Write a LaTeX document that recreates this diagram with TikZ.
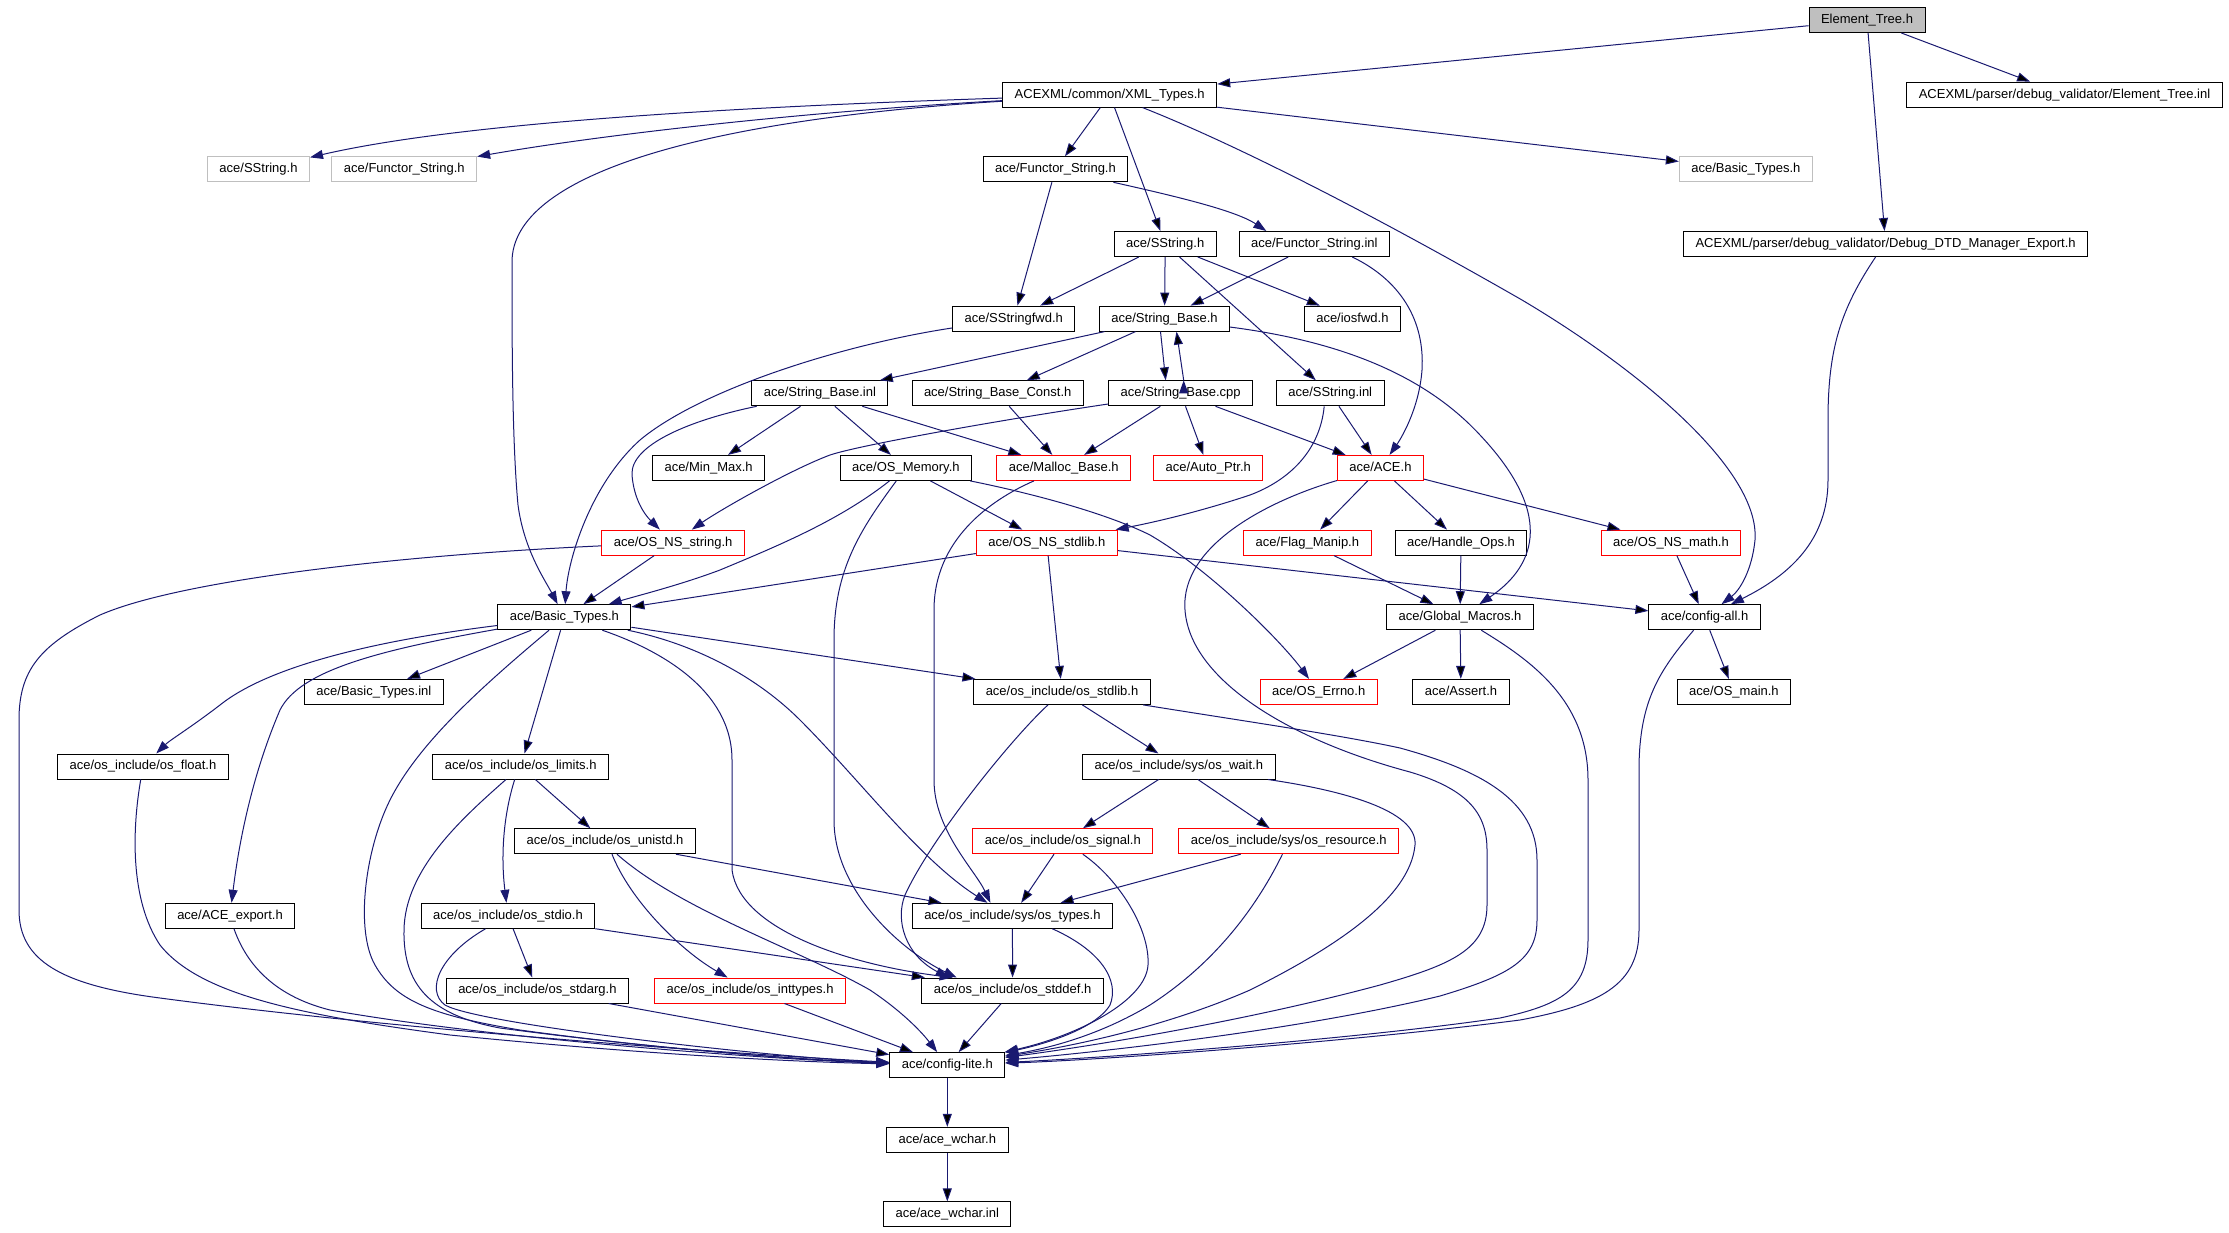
\documentclass[tikz,border=0pt]{standalone}
\usepackage{fontspec}
\setmainfont{Liberation Sans}
\usetikzlibrary{arrows.meta, positioning}
\definecolor{edgeblue}{HTML}{191970}
\definecolor{boxred}{HTML}{FF0000}
\definecolor{boxgray}{HTML}{BFBFBF}

\begin{document}
\begin{tikzpicture}[x=1pt, y=-1pt,
	file/.style={draw=black, line width=1pt, rectangle, minimum height=25pt, inner xsep=12pt, inner ysep=0pt, text height=9.5pt, text depth=2.7pt, font=\fontsize{13}{15}\selectfont},
	redfile/.style={file, draw=boxred},
	extfile/.style={file, draw=boxgray},
	topfile/.style={file, fill=boxgray},
	dep/.style={draw=edgeblue, line width=1pt, -{Triangle[length=13pt,width=9pt]}}]
	\useasboundingbox (0,0) rectangle (2229,1232);

	\node[topfile] (element_tree) at (1867,20) {Element\_Tree.h};
	\node[file] (xml_types) at (1109.7,94.6) {ACEXML/common/XML\_Types.h};
	\node[file] (element_tree_inl) at (2064.5,94.6) {ACEXML/parser/debug\_validator/Element\_Tree.inl};
	\node[extfile] (sstring_ext) at (258.5,169.3) {ace/SString.h};
	\node[extfile] (functor_string_ext) at (404.3,169.3) {ace/Functor\_String.h};
	\node[file] (functor_string) at (1055.5,169.3) {ace/Functor\_String.h};
	\node[extfile] (basic_types_ext) at (1745.9,169.3) {ace/Basic\_Types.h};
	\node[file] (sstring) at (1165.2,244) {ace/SString.h};
	\node[file] (functor_string_inl) at (1314.3,244) {ace/Functor\_String.inl};
	\node[file] (dtd_export) at (1885.6,244) {ACEXML/parser/debug\_validator/Debug\_DTD\_Manager\_Export.h};
	\node[file] (sstringfwd) at (1013.8,318.6) {ace/SStringfwd.h};
	\node[file] (string_base) at (1164.5,318.6) {ace/String\_Base.h};
	\node[file] (iosfwd) at (1352.4,318.6) {ace/iosfwd.h};
	\node[file] (string_base_inl) at (819.9,393.3) {ace/String\_Base.inl};
	\node[file] (string_base_const) at (997.7,393.3) {ace/String\_Base\_Const.h};
	\node[file] (string_base_cpp) at (1180.7,393.3) {ace/String\_Base.cpp};
	\node[file] (sstring_inl) at (1330.2,393.3) {ace/SString.inl};
	\node[file] (min_max) at (708.6,467.9) {ace/Min\_Max.h};
	\node[file] (os_memory) at (905.9,467.9) {ace/OS\_Memory.h};
	\node[redfile] (malloc_base) at (1063.8,467.9) {ace/Malloc\_Base.h};
	\node[redfile] (auto_ptr) at (1208.2,467.9) {ace/Auto\_Ptr.h};
	\node[redfile] (ace) at (1380.4,467.9) {ace/ACE.h};
	\node[redfile] (os_ns_string) at (673.1,542.6) {ace/OS\_NS\_string.h};
	\node[redfile] (os_ns_stdlib) at (1046.8,542.6) {ace/OS\_NS\_stdlib.h};
	\node[redfile] (flag_manip) at (1307.4,542.6) {ace/Flag\_Manip.h};
	\node[file] (handle_ops) at (1461,542.6) {ace/Handle\_Ops.h};
	\node[redfile] (os_ns_math) at (1671,542.6) {ace/OS\_NS\_math.h};
	\node[file] (basic_types) at (564.4,617.2) {ace/Basic\_Types.h};
	\node[file] (global_macros) at (1460,617.2) {ace/Global\_Macros.h};
	\node[file] (config_all) at (1704.6,617.2) {ace/config-all.h};
	\node[file] (basic_types_inl) at (373.9,691.9) {ace/Basic\_Types.inl};
	\node[file] (os_stdlib) at (1062,691.9) {ace/os\_include/os\_stdlib.h};
	\node[redfile] (os_errno) at (1318.7,691.9) {ace/OS\_Errno.h};
	\node[file] (assert) at (1461,691.9) {ace/Assert.h};
	\node[file] (os_main) at (1733.9,691.9) {ace/OS\_main.h};
	\node[file] (os_float) at (143,766.5) {ace/os\_include/os\_float.h};
	\node[file] (os_limits) at (520.7,766.5) {ace/os\_include/os\_limits.h};
	\node[file] (os_wait) at (1178.8,766.5) {ace/os\_include/sys/os\_wait.h};
	\node[file] (os_unistd) at (605,841.2) {ace/os\_include/os\_unistd.h};
	\node[redfile] (os_signal) at (1062.8,841.2) {ace/os\_include/os\_signal.h};
	\node[redfile] (os_resource) at (1288.8,841.2) {ace/os\_include/sys/os\_resource.h};
	\node[file] (ace_export) at (230,915.8) {ace/ACE\_export.h};
	\node[file] (os_stdio) at (508,915.8) {ace/os\_include/os\_stdio.h};
	\node[file] (os_types) at (1012.4,915.8) {ace/os\_include/sys/os\_types.h};
	\node[file] (os_stdarg) at (537.4,990.5) {ace/os\_include/os\_stdarg.h};
	\node[redfile] (os_inttypes) at (750.1,990.5) {ace/os\_include/os\_inttypes.h};
	\node[file] (os_stddef) at (1012.6,990.5) {ace/os\_include/os\_stddef.h};
	\node[file] (config_lite) at (947.3,1065.1) {ace/config-lite.h};
	\node[file] (ace_wchar) at (947.3,1139.8) {ace/ace\_wchar.h};
	\node[file] (ace_wchar_inl) at (947.3,1214.4) {ace/ace\_wchar.inl};

	\path[dep]
	(element_tree) edge (xml_types)
	(element_tree) edge (element_tree_inl)
	(element_tree) edge (dtd_export)
	(xml_types) edge (basic_types_ext)
	(xml_types) edge (functor_string)
	(xml_types) edge (sstring)
	(functor_string) edge (sstringfwd)
	(sstring) edge (sstringfwd)
	(sstring) edge (string_base)
	(sstring) edge (iosfwd)
	(sstring) edge (sstring_inl)
	(functor_string_inl) edge (string_base)
	(string_base) edge (string_base_inl)
	(string_base) edge (string_base_const)
	([xshift=-4pt]string_base.south) edge ([xshift=-15pt]string_base_cpp.north)
	([xshift=3pt]string_base_cpp.north) edge ([xshift=12pt]string_base.south)
	(string_base_cpp) edge (malloc_base)
	(string_base_cpp) edge (auto_ptr)
	(string_base_cpp) edge (ace)
	(string_base_inl) edge (min_max)
	(string_base_inl) edge (os_memory)
	(string_base_inl) edge (malloc_base)
	(string_base_const) edge (malloc_base)
	(sstring_inl) edge (ace)
	(os_memory) edge (os_ns_stdlib)
	(ace) edge (flag_manip)
	(ace) edge (handle_ops)
	(ace) edge (os_ns_math)
	(os_ns_string) edge (basic_types)
	(os_ns_stdlib) edge (basic_types)
	(os_ns_stdlib) edge (os_stdlib)
	(os_ns_stdlib) edge (config_all)
	(flag_manip) edge (global_macros)
	(handle_ops) edge (global_macros)
	(os_ns_math) edge (config_all)
	(global_macros) edge (os_errno)
	(global_macros) edge (assert)
	(config_all) edge (os_main)
	(basic_types) edge (basic_types_inl)
	(basic_types) edge (os_limits)
	(basic_types) edge (os_stdlib)
	(os_stdlib) edge (os_wait)
	(os_wait) edge (os_signal)
	(os_wait) edge (os_resource)
	(os_signal) edge (os_types)
	(os_resource) edge (os_types)
	(os_limits) edge (os_unistd)
	(os_unistd) edge (os_types)
	(os_stdio) edge (os_stdarg)
	(os_stdio) edge (os_stddef)
	(os_stdarg) edge (config_lite)
	(os_inttypes) edge (config_lite)
	(os_types) edge (os_stddef)
	(os_stddef) edge (config_lite)
	(config_lite) edge (ace_wchar)
	(ace_wchar) edge (ace_wchar_inl);

	\draw[dep] (xml_types) .. controls (700,108) and (450,125) .. (sstring_ext);
	\draw[dep] (xml_types) .. controls (800,112) and (600,135) .. (functor_string_ext);
	\draw[dep] (xml_types) .. controls (700,120) and (512,175) .. (512,262) .. controls (512,340) and (512,440) .. (518,505) .. controls (524,550) and (545,580) .. (basic_types);
	\draw[dep] (xml_types) .. controls (1250,150) and (1400,230) .. (1522,300) .. controls (1640,370) and (1760,470) .. (1755,540) .. controls (1752,570) and (1740,590) .. (config_all);
	\draw[dep] (functor_string) .. controls (1170,195) and (1235,210) .. ([xshift=-48pt]functor_string_inl.north);
	\draw[dep] ([xshift=38pt]functor_string_inl.south) .. controls (1400,280) and (1425,320) .. (1422,370) .. controls (1419,410) and (1400,440) .. (ace);
	\draw[dep] (sstringfwd) .. controls (840,345) and (700,390) .. (640,440) .. controls (590,485) and (568,560) .. (basic_types);
	\draw[dep] (string_base) .. controls (1330,340) and (1420,370) .. (1480,435) .. controls (1560,520) and (1530,570) .. (global_macros);
	\draw[dep] (string_base_cpp) .. controls (1000,420) and (860,445) .. (830,455) .. controls (790,470) and (720,510) .. (os_ns_string);
	\draw[dep] (string_base_inl) .. controls (690,420) and (630,445) .. (632,475) .. controls (634,500) and (645,515) .. (os_ns_string);
	\draw[dep] ([xshift=-6pt]sstring_inl.south) .. controls (1320,450) and (1290,480) .. (1250,495) .. controls (1190,515) and (1140,525) .. (os_ns_stdlib);
	\draw[dep] (os_memory) .. controls (840,520) and (780,545) .. (720,570) .. controls (680,585) and (640,595) .. (basic_types);
	\draw[dep] (os_memory) .. controls (1040,495) and (1110,515) .. (1150,535) .. controls (1210,570) and (1280,640) .. (os_errno);
	\draw[dep] (os_memory) .. controls (860,530) and (834,570) .. (834,640) -- (834,820) .. controls (834,890) and (900,950) .. ([xshift=-56pt]os_stddef.north);
	\draw[dep] (malloc_base) .. controls (990,500) and (934,540) .. (934,610) -- (934,780) .. controls (934,830) and (975,870) .. ([xshift=-22pt]os_types.north);
	\draw[dep] (ace) .. controls (1270,500) and (1180,545) .. (1185,610) .. controls (1190,680) and (1290,740) .. (1410,772) .. controls (1470,790) and (1487,815) .. (1487,850) -- (1487,905) .. controls (1487,950) and (1450,965) .. (1380,985) .. controls (1250,1020) and (1100,1045) .. (config_lite);
	\draw[dep] (os_ns_string) .. controls (400,555) and (180,580) .. (100,615) .. controls (40,645) and (19,670) .. (19,720) -- (19,910) .. controls (19,960) and (60,985) .. (160,998) .. controls (400,1030) and (750,1055) .. (config_lite);
	\draw[dep] ([xshift=-10pt]dtd_export.south) .. controls (1840,310) and (1828,350) .. (1828,420) -- (1828,480) .. controls (1828,540) and (1790,575) .. (config_all);
	\draw[dep] (global_macros) .. controls (1530,660) and (1588,700) .. (1588,780) -- (1588,940) .. controls (1588,990) and (1560,1005) .. (1500,1018) .. controls (1350,1040) and (1100,1058) .. (config_lite);
	\draw[dep] (config_all) .. controls (1660,670) and (1639,700) .. (1639,770) -- (1639,930) .. controls (1639,985) and (1600,1005) .. (1520,1020) .. controls (1350,1042) and (1100,1060) .. (config_lite);
	\draw[dep] (basic_types) .. controls (380,640) and (270,665) .. (220,705) .. controls (190,728) and (170,740) .. (os_float);
	\draw[dep] (basic_types) .. controls (380,650) and (300,670) .. (280,710) .. controls (250,780) and (238,850) .. (ace_export);
	\draw[dep] (basic_types) .. controls (490,680) and (420,740) .. (390,800) .. controls (365,850) and (355,930) .. (375,965) .. controls (395,1000) and (430,1015) .. (520,1030) .. controls (650,1048) and (800,1060) .. (config_lite);
	\draw[dep] (basic_types) .. controls (660,650) and (732,690) .. (732,760) -- (732,870) .. controls (740,930) and (850,965) .. ([xshift=-60pt]os_stddef.north);
	\draw[dep] (basic_types) .. controls (700,645) and (760,680) .. (800,720) .. controls (860,780) and (920,860) .. ([xshift=-25pt]os_types.north);
	\draw[dep] (os_stdlib) .. controls (1010,740) and (930,840) .. (905,895) .. controls (895,920) and (905,955) .. ([xshift=-64pt]os_stddef.north);
	\draw[dep] (os_stdlib) .. controls (1250,722) and (1340,735) .. (1400,748) .. controls (1480,770) and (1537,800) .. (1537,860) -- (1537,920) .. controls (1537,960) and (1510,975) .. (1440,996) .. controls (1300,1030) and (1100,1052) .. (config_lite);
	\draw[dep] (os_wait) .. controls (1340,790) and (1418,810) .. (1415,845) .. controls (1410,900) and (1330,950) .. (1250,990) .. controls (1170,1025) and (1080,1045) .. (config_lite);
	\draw[dep] ([xshift=20pt]os_signal.south) .. controls (1120,880) and (1150,930) .. (1148,965) .. controls (1146,1000) and (1080,1035) .. (config_lite);
	\draw[dep] (os_resource) .. controls (1260,900) and (1220,960) .. (1150,1005) .. controls (1100,1035) and (1050,1048) .. (config_lite);
	\draw[dep] ([xshift=-6pt]os_limits.south) .. controls (505,810) and (500,850) .. (os_stdio);
	\draw[dep] (os_limits) .. controls (460,820) and (405,870) .. (404,930) .. controls (403,985) and (430,1015) .. (500,1028) .. controls (650,1048) and (800,1060) .. (config_lite);
	\draw[dep] ([xshift=7pt]os_unistd.south) .. controls (630,900) and (680,950) .. (os_inttypes);
	\draw[dep] ([xshift=12pt]os_unistd.south) .. controls (680,910) and (800,950) .. (870,990) .. controls (900,1010) and (920,1030) .. (config_lite);
	\draw[dep] (os_stdio) .. controls (440,955) and (425,990) .. (445,1005) .. controls (480,1025) and (780,1058) .. (config_lite);
	\draw[dep] (os_float) .. controls (132,830) and (130,900) .. (160,945) .. controls (200,995) and (300,1015) .. (450,1035) .. controls (650,1055) and (800,1062) .. (config_lite);
	\draw[dep] ([xshift=4pt]ace_export.south) .. controls (245,960) and (270,995) .. (330,1010) .. controls (500,1040) and (780,1060) .. (config_lite);
	\draw[dep] ([xshift=40pt]os_types.south) .. controls (1100,950) and (1120,980) .. (1110,1005) .. controls (1095,1030) and (1040,1045) .. (config_lite);
\end{tikzpicture}
\end{document}
